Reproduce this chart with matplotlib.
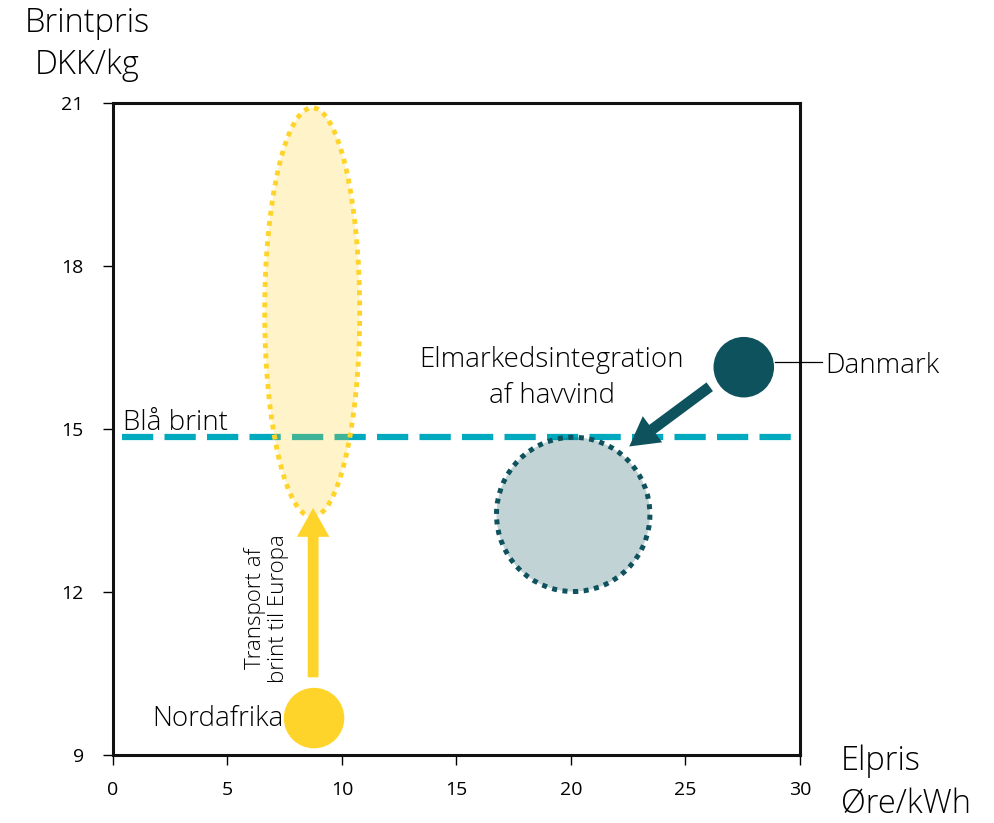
import matplotlib
matplotlib.use("Agg")
from matplotlib import pyplot as plt
from matplotlib.patches import Ellipse, FancyArrowPatch

plt.rcParams['font.family'] = ['Open Sans', 'DejaVu Sans']

# data
x_ticks = [0, 5, 10, 15, 20, 25, 30]
y_ticks = [9, 12, 15, 18, 21]
blaa_brint = 14.85
blaa_x = [0.4, 29.7]

nordafrika = (8.78, 9.68)
danmark = (27.55, 16.14)
# range regions (center x, center y, width, height)
europa_region = (8.7, 17.15, 4.15, 7.53)
havvind_region = (20.1, 13.43, 6.7, 2.84)
transport_arrow = [(8.74, 10.38), (8.74, 13.6)]
havvind_arrow = [(26.16, 15.81), (22.45, 14.65)]

yellow = '#FFD42A'
teal = '#0E525E'
cyan = '#00A9BE'

fig = plt.figure(figsize=(9.94, 8.23), dpi=100)
ax = fig.add_axes([0.1137, 0.0826, 0.691, 0.792])

ax.plot(blaa_x, [blaa_brint, blaa_brint], color=cyan, lw=4.5,
        dashes=(5, 1.8), solid_capstyle='butt', dash_capstyle='butt', zorder=2)

cx, cy, w, h = europa_region
ax.add_patch(Ellipse((cx, cy), w, h, facecolor=yellow, alpha=0.25, edgecolor='none', zorder=3))
ax.add_patch(Ellipse((cx, cy), w, h, facecolor='none', edgecolor=yellow, lw=3.5,
                     linestyle=(0, (1, 1.1)), zorder=4))

cx, cy, w, h = havvind_region
ax.add_patch(Ellipse((cx, cy), w, h, facecolor=teal, alpha=0.25, edgecolor='none', zorder=3))
ax.add_patch(Ellipse((cx, cy), w, h, facecolor='none', edgecolor=teal, lw=3.6,
                     linestyle=(0, (1, 1.1)), zorder=4))

ax.scatter([nordafrika[0]], [nordafrika[1]], s=1900, color=yellow, edgecolors='none', zorder=5)
ax.scatter([danmark[0]], [danmark[1]], s=1900, color=teal, edgecolors='none', zorder=5)

ax.add_patch(FancyArrowPatch(transport_arrow[0], transport_arrow[1],
                             arrowstyle='simple,head_length=1.6,head_width=1.8,tail_width=0.6',
                             mutation_scale=13, color=yellow, lw=0, zorder=5))
ax.add_patch(FancyArrowPatch(havvind_arrow[0], havvind_arrow[1],
                             arrowstyle='simple,head_length=1.6,head_width=1.8,tail_width=0.6',
                             mutation_scale=13, color=teal, lw=0, zorder=5))

# labels
ax.text(0.45, 14.98, 'Blå brint', fontsize=20, ha='left', va='baseline', fontweight='light')
ax.text(7.45, 9.66, 'Nordafrika', fontsize=20, ha='right', va='center', fontweight='light')
ax.text(6.7, 11.7, 'Transport af\nbrint til Europa', fontsize=16, rotation=90,
        ha='center', va='center', linespacing=1.15, fontweight='light')
ax.text(19.17, 15.94, 'Elmarkedsintegration\naf havvind', fontsize=20, ha='center',
        va='center', linespacing=1.35, fontweight='light')
ax.plot([28.9, 30.95], [16.23, 16.23], color='black', lw=0.9, clip_on=False, zorder=6)
ax.text(31.1, 16.17, 'Danmark', fontsize=20, ha='left', va='center', fontweight='light')

ax.set_xlim(0, 30)
ax.set_ylim(9, 21)
ax.set_xticks(x_ticks)
ax.set_yticks(y_ticks)
ax.tick_params(axis='both', labelsize=14, length=7, width=1, direction='out', colors='black')
ax.tick_params(axis='x', pad=12)
ax.tick_params(axis='y', pad=14)
for s in ax.spines.values():
    s.set_linewidth(2.2)
    s.set_color('#111111')

fig.text(0.088, 0.946, 'Brintpris\nDKK/kg', fontsize=23.5, ha='center', va='center',
         linespacing=1.35, fontweight='light')
fig.text(0.846, 0.049, 'Elpris\nØre/kWh', fontsize=23.5, ha='left', va='center',
         linespacing=1.35, fontweight='light')

plt.savefig('out.png', dpi=100)
